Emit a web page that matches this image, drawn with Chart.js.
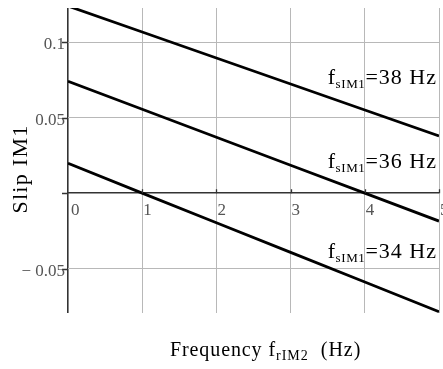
<!DOCTYPE html>
<html><head><meta charset="utf-8">
<script src="https://cdn.jsdelivr.net/npm/chart.js@4.4.0/dist/chart.umd.min.js"></script>
<style>html,body{margin:0;padding:0;background:#fff;}</style>
</head><body>
<canvas id="c" width="443" height="369"></canvas>
<script>
// ---- data ----
const freqX = [0, 1, 2, 3, 4, 5];
const slip38 = [0.1238, 0.1066, 0.0894, 0.0722, 0.0550, 0.0378];
const slip36 = [0.0740, 0.0555, 0.0370, 0.0185, 0.0000, -0.0185];
const slip34 = [0.0198, 0.0000, -0.0196, -0.0392, -0.0588, -0.0784];
const seriesNames = ['38 Hz', '36 Hz', '34 Hz'];
const xTicks = [0, 1, 2, 3, 4, 5];
const xTickLabels = ['0', '1', '2', '3', '4', '5'];
const yTicks = [-0.05, 0, 0.05, 0.1];
const yTickLabels = ['\u2212 0.05', '', '0.05', '0.1'];
const yMin = -0.0793, yMax = 0.1225;

const FONT = '"Liberation Serif", "Times New Roman", serif';
const AXIS = '#333';
const GRID = '#b8b8b8';

function drawRich(ctx, parts, x, y, align) {
  const widths = parts.map(p => {
    ctx.font = p.size + 'px ' + FONT;
    ctx.letterSpacing = (p.ls || 0) + 'px';
    return ctx.measureText(p.t).width;
  });
  const total = widths.reduce((a, b) => a + b, 0);
  let cx = align === 'right' ? x - total : align === 'center' ? x - total / 2 : x;
  ctx.textAlign = 'left';
  ctx.textBaseline = 'alphabetic';
  parts.forEach((p, i) => {
    ctx.font = p.size + 'px ' + FONT;
    ctx.letterSpacing = (p.ls || 0) + 'px';
    ctx.fillText(p.t, cx, y + (p.dy || 0));
    cx += widths[i];
  });
  ctx.letterSpacing = '0px';
}

const overlay = {
  id: 'overlay',
  afterDraw(chart) {
    const { ctx, scales: { x, y } } = chart;
    const y0 = y.getPixelForValue(0);
    const x0 = x.getPixelForValue(0);
    ctx.save();
    // tick marks
    ctx.strokeStyle = AXIS;
    ctx.lineWidth = 1.3;
    ctx.beginPath();
    yTicks.forEach(v => {
      const py = Math.round(y.getPixelForValue(v)) + 0.5;
      ctx.moveTo(x0 - 6, py); ctx.lineTo(x0, py);
    });
    xTicks.slice(1).forEach(v => {
      const px = Math.round(x.getPixelForValue(v)) + 0.5;
      ctx.moveTo(px, y0 - 4); ctx.lineTo(px, y0);
    });
    ctx.stroke();

    // y tick labels
    ctx.fillStyle = '#555';
    ctx.font = '17px ' + FONT;
    ctx.textAlign = 'right';
    ctx.textBaseline = 'middle';
    yTicks.forEach((v, i) => {
      if (yTickLabels[i]) ctx.fillText(yTickLabels[i], x0 - 3, y.getPixelForValue(v) + 3);
    });
    // x tick labels (below the x axis line at y = 0)
    ctx.textAlign = 'left';
    ctx.textBaseline = 'alphabetic';
    xTicks.forEach((v, i) => {
      ctx.fillText(xTickLabels[i], x.getPixelForValue(v) + (v === 0 ? 3 : 1), y0 + 22);
    });

    // series annotations
    ctx.fillStyle = '#000';
    const series = [slip38, slip36, slip34];
    const xr = x.getPixelForValue(5) - 2;
    series.forEach((s, i) => {
      const ly = y.getPixelForValue((s[4] + s[5]) / 2) - 39;
      drawRich(ctx, [
        { t: 'f', size: 22, ls: 0.5 },
        { t: 'sIM1', size: 13, ls: 0.6, dy: 4 },
        { t: '=' + seriesNames[i], size: 22, ls: 1 }
      ], xr, ly, 'right');
    });

    // axis titles
    ctx.fillStyle = '#000';
    drawRich(ctx, [
      { t: 'Frequency f', size: 20, ls: 0.9 },
      { t: 'rIM2', size: 14, ls: 1, dy: 4 },
      { t: '  (Hz)', size: 20, ls: 1 }
    ], 170, 356, 'left');

    ctx.translate(27, 169);
    ctx.rotate(-Math.PI / 2);
    drawRich(ctx, [{ t: 'Slip IM1', size: 22, ls: 1.3 }], 0, 0, 'center');
    ctx.restore();
  }
};

const mk = arr => freqX.map((v, i) => ({ x: v, y: arr[i] }));
const lineStyle = { borderColor: '#000', borderWidth: 2.8, pointRadius: 0, tension: 0, fill: false, clip: 0 };
const gridOpts = {
  drawTicks: false,
  color: c => (c.tick && c.tick.value === 0 ? AXIS : GRID),
  lineWidth: c => (c.tick && c.tick.value === 0 ? 1.6 : 1)
};

new Chart(document.getElementById('c'), {
  type: 'line',
  data: {
    datasets: [
      Object.assign({ label: seriesNames[0], data: mk(slip38) }, lineStyle),
      Object.assign({ label: seriesNames[1], data: mk(slip36) }, lineStyle),
      Object.assign({ label: seriesNames[2], data: mk(slip34) }, lineStyle)
    ]
  },
  options: {
    responsive: false,
    animation: false,
    devicePixelRatio: 1,
    layout: { padding: { left: 68, right: 4, top: 8, bottom: 56 } },
    plugins: { legend: { display: false }, tooltip: { enabled: false } },
    scales: {
      x: {
        type: 'linear', min: 0, max: 5,
        ticks: { display: false },
        afterBuildTicks: s => { s.ticks = xTicks.map(v => ({ value: v })); },
        grid: gridOpts,
        border: { display: false }
      },
      y: {
        type: 'linear', min: yMin, max: yMax,
        ticks: { display: false },
        afterBuildTicks: s => { s.ticks = yTicks.map(v => ({ value: v })); },
        grid: gridOpts,
        border: { display: false }
      }
    }
  },
  plugins: [overlay]
});
</script>
</body></html>
